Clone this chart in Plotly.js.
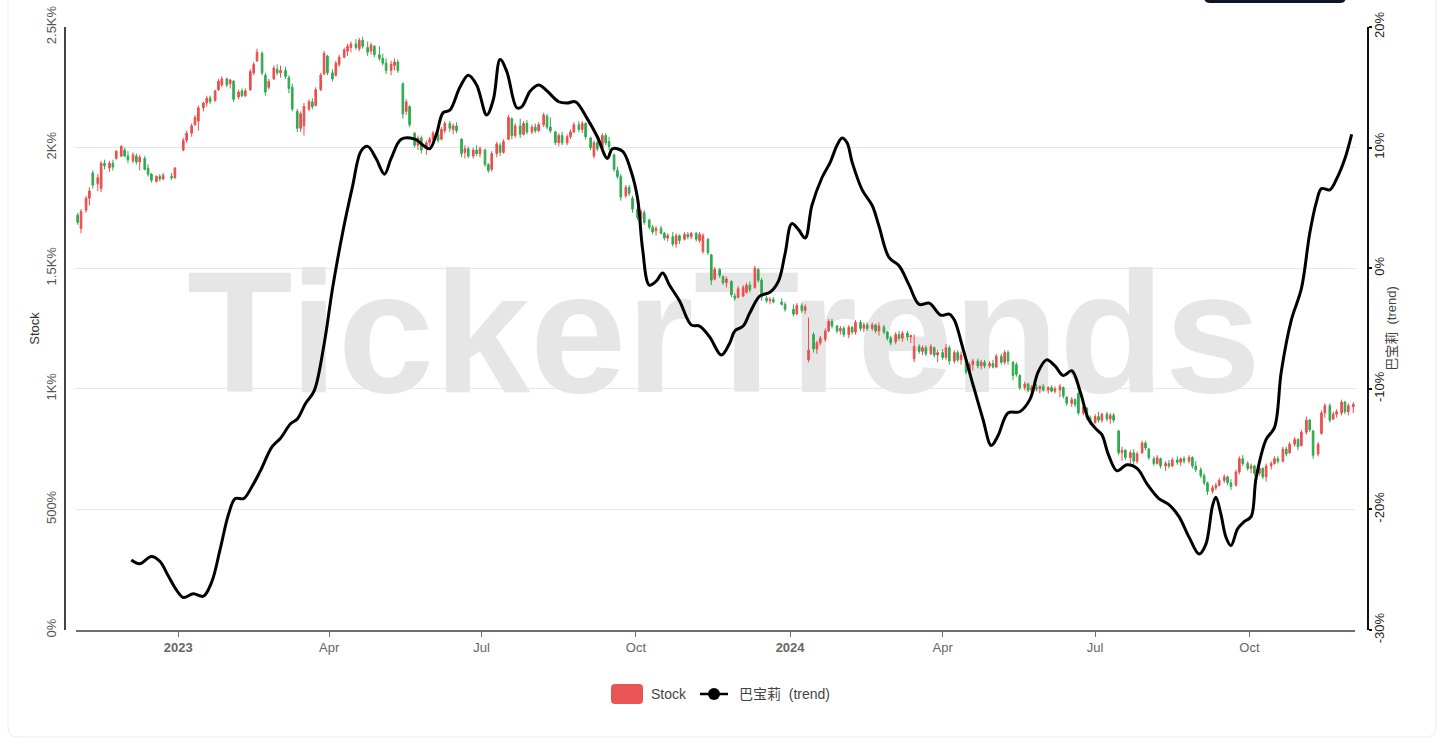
<!DOCTYPE html>
<html>
<head>
<meta charset="utf-8">
<script src="https://cdn.plot.ly/plotly-3.0.1.min.js"></script>
<style>html,body{margin:0;padding:0;background:#fff;}#chart{width:1456px;height:748px;}</style>
</head>
<body>
<div id="chart"></div>
<script>
// ---------------- data ----------------
const candleDates = [
'2022-11-02','2022-11-04',
'2022-11-07','2022-11-09','2022-11-11',
'2022-11-14','2022-11-16','2022-11-18',
'2022-11-21','2022-11-23','2022-11-25',
'2022-11-28','2022-11-30','2022-12-02',
'2022-12-05','2022-12-07','2022-12-09',
'2022-12-12','2022-12-14','2022-12-16',
'2022-12-19','2022-12-21','2022-12-23',
'2022-12-28','2022-12-30',
'2023-01-04','2023-01-06',
'2023-01-09','2023-01-11','2023-01-13',
'2023-01-16','2023-01-18','2023-01-20',
'2023-01-23','2023-01-25','2023-01-27',
'2023-01-30','2023-02-01','2023-02-03',
'2023-02-06','2023-02-08','2023-02-10',
'2023-02-13','2023-02-15','2023-02-17',
'2023-02-20','2023-02-22','2023-02-24',
'2023-02-27','2023-03-01','2023-03-03',
'2023-03-06','2023-03-08','2023-03-10',
'2023-03-13','2023-03-15','2023-03-17',
'2023-03-20','2023-03-22','2023-03-24',
'2023-03-27','2023-03-29','2023-03-31',
'2023-04-03','2023-04-05','2023-04-07',
'2023-04-10','2023-04-12','2023-04-14',
'2023-04-17','2023-04-19','2023-04-21',
'2023-04-24','2023-04-26','2023-04-28',
'2023-05-01','2023-05-03','2023-05-05',
'2023-05-08','2023-05-10','2023-05-12',
'2023-05-15','2023-05-17','2023-05-19',
'2023-05-22','2023-05-24','2023-05-26',
'2023-05-29','2023-05-31','2023-06-02',
'2023-06-05','2023-06-07','2023-06-09',
'2023-06-12','2023-06-14','2023-06-16',
'2023-06-19','2023-06-21','2023-06-23',
'2023-06-26','2023-06-28','2023-06-30',
'2023-07-03','2023-07-05','2023-07-07',
'2023-07-10','2023-07-12','2023-07-14',
'2023-07-17','2023-07-19','2023-07-21',
'2023-07-24','2023-07-26','2023-07-28',
'2023-07-31','2023-08-02','2023-08-04',
'2023-08-07','2023-08-09','2023-08-11',
'2023-08-14','2023-08-16','2023-08-18',
'2023-08-21','2023-08-23','2023-08-25',
'2023-08-28','2023-08-30','2023-09-01',
'2023-09-04','2023-09-06','2023-09-08',
'2023-09-11','2023-09-13','2023-09-15',
'2023-09-18','2023-09-20','2023-09-22',
'2023-09-25','2023-09-27','2023-09-29',
'2023-10-02','2023-10-04','2023-10-06',
'2023-10-09','2023-10-11','2023-10-13',
'2023-10-16','2023-10-18','2023-10-20',
'2023-10-23','2023-10-25','2023-10-27',
'2023-10-30','2023-11-01','2023-11-03',
'2023-11-06','2023-11-08','2023-11-10',
'2023-11-13','2023-11-15','2023-11-17',
'2023-11-20','2023-11-22','2023-11-24',
'2023-11-27','2023-11-29','2023-12-01',
'2023-12-04','2023-12-06','2023-12-08',
'2023-12-11','2023-12-13','2023-12-15',
'2023-12-18','2023-12-20','2023-12-22',
'2023-12-27','2023-12-29',
'2024-01-03','2024-01-05',
'2024-01-08','2024-01-10','2024-01-12',
'2024-01-15','2024-01-17','2024-01-19',
'2024-01-22','2024-01-24','2024-01-26',
'2024-01-29','2024-01-31','2024-02-02',
'2024-02-05','2024-02-07','2024-02-09',
'2024-02-12','2024-02-14','2024-02-16',
'2024-02-19','2024-02-21','2024-02-23',
'2024-02-26','2024-02-28','2024-03-01',
'2024-03-04','2024-03-06','2024-03-08',
'2024-03-11','2024-03-13','2024-03-15',
'2024-03-18','2024-03-20','2024-03-22',
'2024-03-25','2024-03-27','2024-03-29',
'2024-04-01','2024-04-03','2024-04-05',
'2024-04-08','2024-04-10','2024-04-12',
'2024-04-15','2024-04-17','2024-04-19',
'2024-04-22','2024-04-24','2024-04-26',
'2024-04-29','2024-05-01','2024-05-03',
'2024-05-06','2024-05-08','2024-05-10',
'2024-05-13','2024-05-15','2024-05-17',
'2024-05-20','2024-05-22','2024-05-24',
'2024-05-27','2024-05-29','2024-05-31',
'2024-06-03','2024-06-05','2024-06-07',
'2024-06-10','2024-06-12','2024-06-14',
'2024-06-17','2024-06-19','2024-06-21',
'2024-06-24','2024-06-26','2024-06-28',
'2024-07-01','2024-07-03','2024-07-05',
'2024-07-08','2024-07-10','2024-07-12',
'2024-07-15','2024-07-17','2024-07-19',
'2024-07-22','2024-07-24','2024-07-26',
'2024-07-29','2024-07-31','2024-08-02',
'2024-08-05','2024-08-07','2024-08-09',
'2024-08-12','2024-08-14','2024-08-16',
'2024-08-19','2024-08-21','2024-08-23',
'2024-08-26','2024-08-28','2024-08-30',
'2024-09-02','2024-09-04','2024-09-06',
'2024-09-09','2024-09-11','2024-09-13',
'2024-09-16','2024-09-18','2024-09-20',
'2024-09-23','2024-09-25','2024-09-27',
'2024-09-30','2024-10-02','2024-10-04',
'2024-10-07','2024-10-09','2024-10-11',
'2024-10-14','2024-10-16','2024-10-18',
'2024-10-21','2024-10-23','2024-10-25',
'2024-10-28','2024-10-30','2024-11-01',
'2024-11-04','2024-11-06','2024-11-08',
'2024-11-11','2024-11-13','2024-11-15',
'2024-11-18','2024-11-20','2024-11-22',
'2024-11-25','2024-11-27','2024-11-29',
'2024-12-02'
];

const candleOpen = [
1720,1665, 1740,1790,1895, 1850,1830,1935, 1915,1935,1955, 1965,1990,1965, 1945,1965,1940, 1955,1915,1890, 1860,1880,1870, 1880,1875,
1990,2030, 2060,2095,2110, 2165,2185,2205, 2195,2240,2260, 2285,2265,2275, 2210,2235,2215, 2240,2310,2360, 2390,2300,2250, 2285,2325,2310,
2320,2290,2250, 2150,2080,2090, 2160,2190,2175, 2240,2305,2380, 2310,2300,2345, 2375,2400,2415, 2430,2410,2445, 2415,2400,2420,
2385,2370,2350, 2320,2340,2355, 2265,2150,2170, 2060,2010,2040, 1995,2020,2035, 2055,2035,2070, 2100,2075,2090, 2035,1980,1995,
1965,1990,1975, 1990,1930,1910, 1975,2010,1980, 2035,2120,2050, 2090,2055,2100, 2065,2085,2070, 2095,2130,2085, 2065,2020,2050,
2020,2045,2065, 2095,2075,2100, 2040,1965,2020, 2000,2050,2025, 1970,1905,1880, 1800,1835,1790, 1745,1705,1730, 1700,1670,1655,
1665,1645,1625, 1630,1600,1635, 1620,1640,1630, 1645,1615,1570, 1620,1555,1455, 1495,1465,1440, 1445,1385,1380, 1385,1400,1430,
1420,1495,1450, 1375,1365,1370, 1360,1350,
1330,1310, 1345,1325,1120, 1225,1165,1190, 1205,1240,1280, 1260,1240,1250, 1225,1255,1235, 1275,1250,1265, 1250,1265,1240,
1255,1235,1210, 1195,1225,1210, 1230,1215,1125, 1175,1155,1170, 1145,1170,1140, 1150,1130,1170, 1115,1150,1120, 1120,1070,1100,
1115,1095,1110, 1095,1105,1090, 1135,1110,1150, 1110,1100,1055, 1005,1020,995, 1005,1000,1010, 995,1005,990, 995,1005,965,
940,955,980, 900,920,880, 860,885,870, 895,875,890, 825,735,745, 715,735,700, 735,775,750, 710,690,710, 680,690,680, 705,695,710,
700,715,680, 665,640,610, 575,590,600, 620,635,610, 600,655,710, 690,670,680, 650,670,635, 680,690,710, 700,750,735, 770,790,765,
820,870,825, 730,815,900, 930,875,895, 900,945,905, 925
];

const candleHigh = [
1730,1745, 1800,1835,1905, 1890,1945,1950, 1945,1950,1990, 2010,2000,1985, 1980,1975,1970, 1965,1930,1895, 1885,1890,1895, 1895,1920,
2040,2070, 2100,2135,2175, 2190,2215,2215, 2240,2285,2295, 2290,2285,2280, 2240,2245,2245, 2325,2355,2410, 2400,2310,2285, 2340,2345,2340,
2335,2300,2265, 2160,2150,2185, 2200,2205,2250, 2310,2400,2385, 2325,2360,2385, 2415,2430,2440, 2450,2455,2460, 2440,2435,2425,
2420,2390,2370, 2360,2370,2365, 2270,2200,2175, 2065,2050,2050, 2030,2045,2070, 2065,2085,2110, 2110,2100,2105, 2040,2010,2005,
2000,2010,2005, 1995,1935,1985, 2025,2020,2035, 2135,2125,2100, 2120,2110,2115, 2095,2100,2105, 2145,2140,2125, 2070,2060,2065,
2055,2075,2105, 2110,2110,2105, 2045,2030,2035, 2060,2060,2045, 1975,1920,1890, 1845,1845,1800, 1755,1745,1740, 1705,1680,1675,
1675,1650,1645, 1650,1645,1640, 1650,1650,1650, 1650,1650,1645, 1625,1560,1505, 1500,1470,1465, 1450,1395,1425, 1430,1440,1445,
1510,1500,1460, 1385,1380,1380, 1375,1360,
1350,1355, 1355,1350,1295, 1235,1200,1220, 1250,1290,1290, 1265,1260,1260, 1265,1260,1285, 1285,1275,1275, 1275,1270,1275,
1265,1240,1220, 1235,1240,1240, 1240,1225,1225, 1185,1180,1180, 1185,1175,1160, 1165,1185,1180, 1160,1160,1155, 1125,1110,1125,
1125,1120,1120, 1115,1120,1145, 1145,1160,1160, 1115,1110,1060, 1030,1025,1015, 1020,1015,1020, 1010,1015,1010, 1020,1010,970,
965,960,990, 935,925,890, 895,905,900, 905,900,900, 830,760,750, 745,750,740, 785,785,755, 720,725,715, 700,705,715, 720,715,720,
725,720,700, 675,650,615, 600,610,630, 645,640,625, 665,720,725, 700,690,685, 680,675,690, 700,720,720, 760,760,780, 800,795,830,
885,875,830, 780,910,940, 940,905,915, 955,950,940, 945
];

const candleLow = [
1680,1645, 1730,1760,1830, 1820,1815,1910, 1900,1905,1950, 1960,1960,1935, 1935,1930,1905, 1905,1880,1855, 1855,1860,1865, 1865,1870,
1985,2020, 2045,2090,2070, 2150,2170,2180, 2190,2235,2250, 2250,2245,2190, 2200,2210,2210, 2235,2300,2355, 2300,2215,2240, 2280,2300,2290,
2285,2225,2150, 2065,2065,2050, 2150,2160,2170, 2235,2300,2300, 2275,2295,2335, 2370,2380,2395, 2405,2400,2410, 2380,2385,2375,
2360,2340,2305, 2300,2320,2310, 2120,2135,2085, 2000,1990,1975, 1970,2005,2025, 2020,2030,2060, 2065,2055,2060, 1960,1955,1955,
1955,1965,1960, 1920,1895,1900, 1960,1965,1975, 2030,2035,2040, 2040,2050,2055, 2055,2060,2065, 2085,2075,2060, 2010,2005,2010,
2010,2035,2060, 2065,2060,2035, 1990,1955,1985, 1995,2010,1990, 1900,1870,1780, 1790,1800,1730, 1700,1665,1680, 1660,1640,1635,
1640,1615,1610, 1590,1585,1600, 1615,1620,1620, 1610,1605,1560, 1555,1430,1450, 1460,1430,1420, 1380,1365,1375, 1380,1395,1400,
1415,1440,1365, 1355,1350,1355, 1345,1320,
1300,1305, 1315,1310,1110, 1150,1145,1180, 1195,1235,1250, 1230,1225,1215, 1210,1225,1225, 1240,1235,1240, 1240,1230,1220,
1225,1200,1180, 1185,1200,1195, 1200,1190,1110, 1145,1140,1135, 1140,1130,1110, 1120,1120,1100, 1105,1110,1100, 1060,1060,1075,
1085,1080,1085, 1085,1085,1085, 1100,1100,1100, 1035,1050,995, 995,985,980, 990,980,990, 980,985,980, 965,960,930,
925,925,890, 890,870,850, 855,860,860, 865,855,860, 725,700,705, 690,685,690, 730,745,705, 680,685,670, 660,670,675, 685,680,690,
690,670,655, 630,600,560, 565,580,595, 610,600,580, 595,645,680, 660,650,640, 640,625,615, 665,685,690, 695,720,730, 760,745,760,
810,820,710, 720,810,880, 860,870,880, 890,895,890, 900
];

const candleClose = [
1690,1735, 1790,1820,1845, 1875,1935,1925, 1935,1920,1985, 2005,1965,1950, 1970,1940,1960, 1910,1890,1865, 1880,1870,1885, 1875,1915,
2030,2060, 2090,2125,2165, 2185,2205,2190, 2235,2275,2285, 2260,2280,2200, 2230,2215,2235, 2315,2345,2395, 2310,2230,2275, 2330,2310,2320,
2295,2245,2160, 2080,2140,2170, 2190,2170,2240, 2300,2390,2310, 2285,2350,2375, 2405,2420,2430, 2415,2445,2420, 2395,2425,2385,
2370,2350,2320, 2345,2355,2320, 2140,2190,2095, 2010,2040,1990, 2020,2035,2060, 2030,2075,2100, 2080,2090,2070, 1975,1995,1965,
1990,1975,1995, 1930,1905,1975, 2015,1980,2025, 2125,2050,2090, 2055,2100,2065, 2085,2070,2095, 2135,2085,2070, 2020,2050,2020,
2045,2065,2095, 2075,2100,2045, 2000,2020,1995, 2050,2020,2005, 1910,1880,1795, 1835,1810,1745, 1710,1735,1690, 1670,1650,1665,
1645,1625,1635, 1600,1635,1615, 1640,1630,1645, 1620,1640,1635, 1565,1450,1495, 1470,1440,1455, 1390,1375,1415, 1420,1430,1410,
1500,1450,1380, 1365,1370,1360, 1350,1330,
1310,1345, 1325,1340,1160, 1165,1190,1210, 1240,1280,1260, 1240,1250,1225, 1255,1235,1275, 1250,1265,1250, 1265,1240,1260,
1235,1210,1190, 1225,1210,1230, 1215,1220,1175, 1155,1170,1145, 1175,1140,1150, 1130,1170,1115, 1150,1120,1140, 1070,1100,1115,
1095,1110,1095, 1105,1090,1135, 1110,1150,1115, 1055,1060,1005, 1020,995,1005, 1000,1010,995, 1005,990,1000, 1010,970,940,
955,935,900, 925,880,860, 885,870,895, 875,890,870, 735,745,715, 735,700,730, 775,755,715, 690,715,680, 690,680,705, 695,710,700,
715,680,665, 640,610,575, 590,600,620, 635,610,595, 655,710,690, 670,680,650, 670,635,680, 690,710,700, 750,730,770, 790,760,820,
870,830,725, 770,900,930, 870,895,905, 945,905,930, 935
];

const trendDates = [
'2022-12-04','2022-12-09','2022-12-16','2022-12-21','2022-12-26','2022-12-31',
'2023-01-04','2023-01-10','2023-01-16','2023-01-21','2023-01-26','2023-01-31',
'2023-02-04','2023-02-09','2023-02-14','2023-02-19','2023-02-26',
'2023-03-03','2023-03-09','2023-03-13','2023-03-18','2023-03-23','2023-03-29',
'2023-04-03','2023-04-09','2023-04-15','2023-04-20','2023-04-24','2023-04-29',
'2023-05-04','2023-05-08','2023-05-14','2023-05-22','2023-05-28','2023-05-31',
'2023-06-04','2023-06-08','2023-06-12','2023-06-18','2023-06-23','2023-06-28',
'2023-07-04','2023-07-08','2023-07-12','2023-07-16','2023-07-22','2023-07-25','2023-07-30',
'2023-08-04','2023-08-09','2023-08-16','2023-08-21','2023-08-26',
'2023-09-02','2023-09-08','2023-09-14','2023-09-17','2023-09-23','2023-09-28',
'2023-10-02','2023-10-05','2023-10-09','2023-10-13','2023-10-17','2023-10-21','2023-10-27',
'2023-11-03','2023-11-08','2023-11-14','2023-11-21','2023-11-26','2023-11-29',
'2023-12-04','2023-12-08','2023-12-14','2023-12-20','2023-12-25','2023-12-29',
'2024-01-02','2024-01-06','2024-01-10','2024-01-14','2024-01-20','2024-01-25','2024-01-29',
'2024-02-01','2024-02-04','2024-02-07','2024-02-13','2024-02-19','2024-02-23','2024-02-29',
'2024-03-06','2024-03-12','2024-03-18','2024-03-24','2024-03-31',
'2024-04-05','2024-04-08','2024-04-13','2024-04-19','2024-04-25','2024-04-30',
'2024-05-04','2024-05-10','2024-05-17','2024-05-23','2024-05-28',
'2024-06-02','2024-06-07','2024-06-12','2024-06-17','2024-06-22','2024-06-27',
'2024-07-02','2024-07-05','2024-07-09','2024-07-14','2024-07-20','2024-07-26',
'2024-08-01','2024-08-08','2024-08-14','2024-08-20','2024-08-26',
'2024-09-01','2024-09-05','2024-09-09','2024-09-11','2024-09-14','2024-09-17','2024-09-20','2024-09-24','2024-09-28',
'2024-10-02','2024-10-05','2024-10-11','2024-10-16','2024-10-20','2024-10-26',
'2024-11-01','2024-11-06','2024-11-10','2024-11-13','2024-11-18','2024-11-22','2024-11-27',
'2024-12-01'
];

const trendValues = [
-24.2,-24.5,-23.9,-24.3,-25.5,-26.7,
-27.3,-27.0,-27.2,-26.0,-23.3,-20.4,
-19.1,-19.1,-18.1,-16.8,-14.8,
-14.1,-12.9,-12.5,-11.2,-10.2,-6.3,
-1.7,2.9,6.8,9.7,10.1,9.1,
7.8,9.1,10.7,10.7,10.1,9.9,
11.1,12.9,13.1,15.0,16.0,15.2,
12.7,14.0,17.3,16.3,13.3,13.4,14.7,
15.2,14.7,13.8,13.7,13.8,
12.4,10.9,9.1,9.9,9.7,8.1,
5.8,1.6,-1.4,-1.1,-0.4,-1.4,-2.7,
-4.7,-4.8,-5.7,-7.2,-6.2,-5.2,
-4.8,-3.7,-2.3,-2.0,-1.1,1.2,
3.7,3.2,2.5,5.2,7.5,8.8,10.2,
10.8,10.4,8.8,6.5,5.2,3.5,0.9,
0.2,-1.4,-3.0,-2.9,-3.9,
-3.8,-4.3,-6.6,-9.6,-12.5,-14.7,
-13.9,-12.0,-11.9,-10.9,-8.6,
-7.6,-8.1,-8.9,-8.5,-10.2,-12.5,
-13.4,-13.8,-15.5,-16.8,-16.3,-16.6,
-17.9,-19.1,-19.6,-20.6,-22.3,
-23.7,-22.9,-19.7,-19.0,-20.4,-22.3,-23.0,-21.6,-21.0,
-20.6,-17.4,-14.2,-13.2,-8.6,-4.3,
-1.7,2.9,5.5,6.6,6.5,7.4,9.1,
11.1
];

const xTickVals = ['2023-01-01','2023-04-01','2023-07-01','2023-10-01','2024-01-01','2024-04-01','2024-07-01','2024-10-01'];
const xTickText = ['<b>2023</b>','Apr','Jul','Oct','<b>2024</b>','Apr','Jul','Oct'];
const yTickVals = [0,500,1000,1500,2000,2500];
const yTickText = ['0%','500%','1K%','1.5K%','2K%','2.5K%'];
const y2TickVals = [-30,-20,-10,0,10,20];
const y2TickText = ['-30%','-20%','-10%','0%','10%','20%'];

const stockName = 'Stock';
const trendName = '巴宝莉\u00a0 (trend)';

// ---------------- chart ----------------
const FONT = '"Liberation Sans", Arial, "Noto Sans CJK SC", sans-serif';
const RED = '#ec4d4d';
const GREEN = '#2fab4f';

// helpers converting pixel positions to paper coords (decorations only)
const ML = 65, MR = 88, MT = 27, MB = 118, W = 1456, H = 748;
const PW = W - ML - MR, PH = H - MT - MB;
const px = v => (v - ML) / PW;
const py = v => (H - MB - v) / PH;

function roundRect(x0, y0, x1, y1, r) {
  const a = px(x0), b = px(x1), t = py(y0), u = py(y1);
  const rx = r / PW, ry = r / PH;
  return `M${a + rx},${t} L${b - rx},${t} Q${b},${t} ${b},${t - ry} L${b},${u + ry} Q${b},${u} ${b - rx},${u} L${a + rx},${u} Q${a},${u} ${a},${u + ry} L${a},${t - ry} Q${a},${t} ${a + rx},${t} Z`;
}

const traces = [
  {
    type: 'candlestick',
    name: stockName,
    x: candleDates, open: candleOpen, high: candleHigh, low: candleLow, close: candleClose,
    increasing: {line: {color: RED, width: 1}, fillcolor: RED},
    decreasing: {line: {color: GREEN, width: 1}, fillcolor: GREEN},
    whiskerwidth: 0,
    xaxis: 'x', yaxis: 'y',
    showlegend: false
  },
  {
    type: 'scatter', mode: 'lines',
    name: trendName,
    x: trendDates, y: trendValues,
    line: {color: '#000000', width: 3, shape: 'spline', smoothing: 1},
    xaxis: 'x', yaxis: 'y2',
    showlegend: false
  }
];

const shapes = [
  {type: 'rect', xref: 'paper', yref: 'paper', x0: px(724) - 0.4, x1: px(724) + 0.4, y0: py(316) - 0.2, y1: py(316) + 0.2,
   line: {width: 0}, fillcolor: 'rgba(0,0,0,0)', layer: 'below',
   label: {text: 'TickerTrends', textposition: 'middle center',
           font: {family: '"Liberation Sans", Arial, sans-serif', size: 173, color: '#e6e6e6', weight: 'bold'}}},
  {type: 'path', xref: 'paper', yref: 'paper', path: roundRect(8, -20, 1436, 737, 10),
   line: {color: '#ececec', width: 1}, fillcolor: 'rgba(0,0,0,0)', layer: 'below'},
  {type: 'path', xref: 'paper', yref: 'paper', path: roundRect(1204, -20, 1346, 3, 6),
   line: {width: 0}, fillcolor: '#0d1526'},
  {type: 'path', xref: 'paper', yref: 'paper', path: roundRect(611, 684, 643, 704, 4),
   line: {width: 0}, fillcolor: '#e95454'},
  {type: 'line', xref: 'paper', yref: 'paper', x0: px(700), x1: px(728), y0: py(694), y1: py(694),
   line: {color: '#000', width: 2.5}},
  {type: 'circle', xref: 'paper', yref: 'paper', x0: px(708), x1: px(720), y0: py(700), y1: py(688),
   line: {color: '#000', width: 0}, fillcolor: '#000'}
];

const annotations = [
  {xref: 'paper', yref: 'paper', x: px(649), y: py(694), xanchor: 'left', yanchor: 'middle', showarrow: false,
   text: stockName, font: {family: FONT, size: 14, color: '#444'}},
  {xref: 'paper', yref: 'paper', x: px(737), y: py(694), xanchor: 'left', yanchor: 'middle', showarrow: false,
   text: trendName, font: {family: FONT, size: 14, color: '#444'}}
];

const layout = {
  width: W, height: H,
  margin: {l: ML, r: MR, t: MT, b: MB, pad: 0},
  paper_bgcolor: '#ffffff', plot_bgcolor: '#ffffff',
  font: {family: FONT, size: 13, color: '#444'},
  showlegend: false,
  hovermode: false,
  xaxis: {
    type: 'date',
    domain: [px(76), px(1355)],
    range: ['2022-11-01', '2024-12-03'],
    rangeslider: {visible: false},
    showgrid: false, zeroline: false,
    showline: true, linecolor: '#6b6e7a', linewidth: 1.5,
    ticks: 'outside', ticklen: 5, tickcolor: '#6b6e7a', tickwidth: 1,
    tickvals: xTickVals, ticktext: xTickText,
    tickfont: {family: FONT, size: 13, color: '#666'}
  },
  yaxis: {
    range: [0, 2500],
    anchor: 'free', position: 0,
    tickvals: yTickVals, ticktext: yTickText,
    tickangle: -90,
    ticklabelstandoff: 3,
    tickfont: {family: FONT, size: 13, color: '#555'},
    showgrid: true, gridcolor: '#e4e6f0', gridwidth: 1,
    zeroline: false,
    showline: true, linecolor: '#444', linewidth: 2,
    ticks: '',
    title: {text: 'Stock', font: {family: FONT, size: 13, color: '#333'}, standoff: 0}
  },
  yaxis2: {
    overlaying: 'y', side: 'right',
    anchor: 'free', position: 1,
    range: [-30, 20],
    tickvals: y2TickVals, ticktext: y2TickText,
    tickangle: -90,
    ticklabelstandoff: -4,
    tickfont: {family: FONT, size: 13, color: '#222'},
    showgrid: false, zeroline: false,
    showline: true, linecolor: '#111', linewidth: 2,
    ticks: 'outside', ticklen: 3, tickcolor: '#111', tickwidth: 1.5,
    title: {text: trendName, font: {family: FONT, size: 13, color: '#444'}, standoff: 0}
  },
  shapes: shapes,
  annotations: annotations
};

Plotly.newPlot('chart', traces, layout, {displayModeBar: false, responsive: false});
</script>
</body>
</html>
